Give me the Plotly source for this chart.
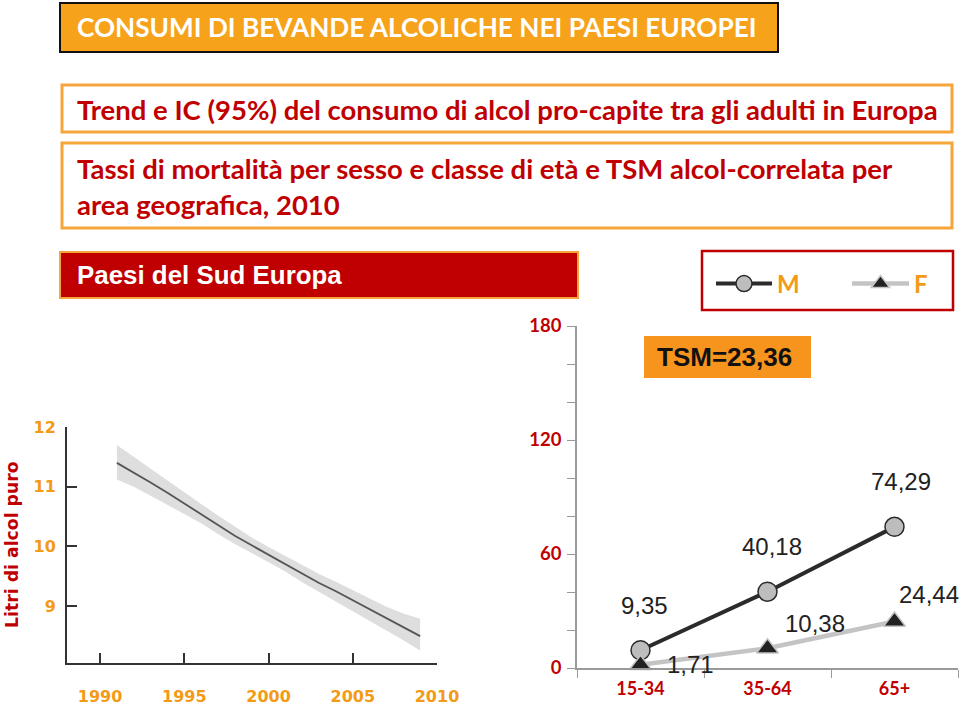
import plotly.graph_objects as go

# ---------------- data ----------------
years = [1991, 1992, 1993, 1994, 1995, 1996, 1997, 1998, 1999, 2000,
         2001, 2002, 2003, 2004, 2005, 2006, 2007, 2008, 2009]
litri = [11.40, 11.24, 11.07, 10.90, 10.72, 10.55, 10.36, 10.18, 10.02, 9.86,
         9.71, 9.54, 9.39, 9.25, 9.10, 8.95, 8.80, 8.65, 8.50]
ci_upper = [11.70, 11.50, 11.30, 11.10, 10.90, 10.71, 10.52, 10.33, 10.15, 9.99,
            9.84, 9.68, 9.54, 9.41, 9.27, 9.13, 8.99, 8.88, 8.79]
ci_lower = [11.12, 11.00, 10.85, 10.70, 10.54, 10.39, 10.21, 10.04, 9.89, 9.73,
            9.58, 9.40, 9.24, 9.08, 8.92, 8.76, 8.60, 8.43, 8.26]
year_ticks = [1990, 1995, 2000, 2005, 2010]
litri_ticks = [9, 10, 11, 12]

age_classes = ["15-34", "35-64", "65+"]
mort_m = [9.35, 40.18, 74.29]
mort_f = [1.71, 10.38, 24.44]
mort_m_labels = ["9,35", "40,18", "74,29"]
mort_f_labels = ["1,71", "10,38", "24,44"]
rate_ticks = [0, 20, 40, 60, 80, 100, 120, 140, 160, 180]
rate_ticktext = ["0", "", "", "60", "", "", "120", "", "", "180"]

# ---------------- helpers ----------------
W, H = 960, 706
def px(x):
    return x / W
def py(y):
    return 1 - y / H

ORANGE = "#F7A21B"
DARKRED = "#C00000"
TICK_ORANGE = "#F39A16"

fig = go.Figure()

# left chart: CI band + trend
fig.add_trace(go.Scatter(x=years, y=ci_lower, mode="lines", line=dict(width=0),
                         showlegend=False, hoverinfo="skip", xaxis="x", yaxis="y"))
fig.add_trace(go.Scatter(x=years, y=ci_upper, mode="lines", line=dict(width=0),
                         fill="tonexty", fillcolor="#DEDEDE",
                         showlegend=False, hoverinfo="skip", xaxis="x", yaxis="y"))
fig.add_trace(go.Scatter(x=years, y=litri, mode="lines", line=dict(color="#555555", width=1.8),
                         showlegend=False, xaxis="x", yaxis="y"))

# right chart: M and F
fig.add_trace(go.Scatter(x=age_classes, y=mort_m, mode="lines+markers", name="M",
                         line=dict(color="#2B2B2B", width=4),
                         marker=dict(symbol="circle", size=19, color="#BDBDBD",
                                     line=dict(color="#2B2B2B", width=1.5)),
                         cliponaxis=False, xaxis="x2", yaxis="y2", legend="legend"))
fig.add_trace(go.Scatter(x=age_classes, y=mort_f, mode="lines+markers", name="F",
                         line=dict(color="#C4C4C4", width=4.5),
                         marker=dict(symbol="triangle-up", size=19, color="#222222",
                                     line=dict(color="#C4C4C4", width=1.5)),
                         cliponaxis=False, xaxis="x2", yaxis="y2", legend="legend2"))

# data labels
lab_font = dict(family="Liberation Sans, Arial", size=24, color="#222222")
m_shifts = [(4, 45), (4, 45), (6, 45)]
f_shifts = [(50, 0), (47, 25), (34, 27)]
annotations = []
for c, v, t, (dx, dy) in zip(age_classes, mort_m, mort_m_labels, m_shifts):
    annotations.append(dict(x=c, y=v, xref="x2", yref="y2", text=t, showarrow=False,
                            xshift=dx, yshift=dy, font=lab_font))
for c, v, t, (dx, dy) in zip(age_classes, mort_f, mort_f_labels, f_shifts):
    annotations.append(dict(x=c, y=v, xref="x2", yref="y2", text=t, showarrow=False,
                            xshift=dx, yshift=dy, font=lab_font))

# text blocks
annotations += [
    dict(x=px(75), y=py(27), xref="paper", yref="paper", xanchor="left", yanchor="middle",
         text="CONSUMI DI BEVANDE ALCOLICHE NEI PAESI EUROPEI", showarrow=False,
         font=dict(family="Lato", size=26.2, color="white", weight="bold")),
    dict(x=px(75), y=py(110), xref="paper", yref="paper", xanchor="left", yanchor="middle",
         text="Trend e IC (95%) del consumo di alcol pro-capite tra gli adulti in Europa",
         showarrow=False, font=dict(family="Lato", size=27.5, color=DARKRED, weight="bold")),
    dict(x=px(75), y=py(168), xref="paper", yref="paper", xanchor="left", yanchor="middle",
         text="Tassi di mortalità per sesso e classe di età e TSM alcol-correlata per",
         showarrow=False, font=dict(family="Lato", size=27.5, color=DARKRED, weight="bold")),
    dict(x=px(75), y=py(204), xref="paper", yref="paper", xanchor="left", yanchor="middle",
         text="area geografica, 2010",
         showarrow=False, font=dict(family="Lato", size=27.5, color=DARKRED, weight="bold")),
    dict(x=px(75), y=py(275), xref="paper", yref="paper", xanchor="left", yanchor="middle",
         text="Paesi del Sud Europa", showarrow=False,
         font=dict(family="Liberation Sans, Arial", size=25.9, color="white", weight="bold")),
    dict(x=px(724), y=py(357), xref="paper", yref="paper", xanchor="center", yanchor="middle",
         text="TSM=23,36", showarrow=False,
         font=dict(family="Liberation Sans, Arial", size=26, color="#111111", weight="bold")),
    dict(x=px(12), y=py(545), xref="paper", yref="paper", xanchor="center", yanchor="middle",
         text="Litri di alcol puro", textangle=-90, showarrow=False,
         font=dict(family="DejaVu Sans", size=17.3, color=DARKRED, weight="bold")),
]

shapes = [
    dict(type="rect", xref="paper", yref="paper", x0=px(60), x1=px(778), y0=py(52), y1=py(3),
         fillcolor=ORANGE, line=dict(color="#111111", width=2), layer="below"),
    dict(type="rect", xref="paper", yref="paper", x0=px(62), x1=px(952), y0=py(132), y1=py(85),
         fillcolor="white", line=dict(color="#F5A53A", width=3), layer="below"),
    dict(type="rect", xref="paper", yref="paper", x0=px(62), x1=px(952), y0=py(228), y1=py(143),
         fillcolor="white", line=dict(color="#F5A53A", width=3), layer="below"),
    dict(type="rect", xref="paper", yref="paper", x0=px(60), x1=px(578), y0=py(298), y1=py(252),
         fillcolor=DARKRED, line=dict(color="#F5A53A", width=2), layer="below"),
    dict(type="rect", xref="paper", yref="paper", x0=px(702), x1=px(953), y0=py(310), y1=py(251),
         fillcolor="rgba(0,0,0,0)", line=dict(color=DARKRED, width=2.5), layer="below"),
    dict(type="rect", xref="paper", yref="paper", x0=px(644), x1=px(811), y0=py(378), y1=py(336),
         fillcolor="#F7941D", line=dict(width=0), layer="below"),
]

left_tick_font = dict(family="DejaVu Sans", size=16, color=TICK_ORANGE, weight="bold")
right_ytick_font = dict(family="Lato", size=18.5, color=DARKRED, weight="bold")
right_xtick_font = dict(family="Lato", size=18, color=DARKRED, weight="bold")
legend_font = dict(family="Lato", size=24, color=TICK_ORANGE, weight="bold")

fig.update_layout(
    width=W, height=H, margin=dict(l=0, r=0, t=0, b=0, autoexpand=False),
    paper_bgcolor="white", plot_bgcolor="rgba(0,0,0,0)",
    annotations=annotations, shapes=shapes,
    showlegend=True,
    legend=dict(orientation="h", xref="container", yref="container",
                x=px(711), y=py(284), xanchor="left", yanchor="middle",
                bgcolor="rgba(0,0,0,0)", borderwidth=0, itemwidth=56, font=legend_font),
    legend2=dict(orientation="h", xref="container", yref="container",
                 x=px(847), y=py(284), xanchor="left", yanchor="middle",
                 bgcolor="rgba(0,0,0,0)", borderwidth=0, itemwidth=57, font=legend_font),
    xaxis=dict(domain=[px(67), px(437)], range=[1988.04, 2010], tickvals=year_ticks,
               ticks="inside", ticklen=10, tickwidth=2, tickcolor="#333333",
               showline=True, linecolor="#333333", linewidth=2, showgrid=False, zeroline=False,
               tickfont=left_tick_font, ticklabelstandoff=18, anchor="y"),
    yaxis=dict(domain=[py(663), py(427)], range=[8.05, 12], tickvals=litri_ticks,
               ticks="inside", ticklen=10, tickwidth=2, tickcolor="#333333",
               showline=True, linecolor="#333333", linewidth=2, showgrid=False, zeroline=False,
               tickfont=left_tick_font, ticklabelstandoff=6, anchor="x"),
    xaxis2=dict(domain=[px(577), px(958)], type="category", categoryarray=age_classes,
                range=[-0.5, 2.5], tickson="boundaries", ticks="outside", ticklen=8,
                tickcolor="#9A9A9A", showline=True, linecolor="#9A9A9A", linewidth=1.5,
                showgrid=False, zeroline=False, tickfont=right_xtick_font,
                ticklabelstandoff=4, anchor="y2"),
    yaxis2=dict(domain=[py(668), py(326)], range=[0, 180], tickvals=rate_ticks,
                ticktext=rate_ticktext, ticks="outside", ticklen=8, tickcolor="#9A9A9A",
                showline=True, linecolor="#9A9A9A", linewidth=1.5, showgrid=False,
                zeroline=False, tickfont=right_ytick_font, ticklabelstandoff=2, anchor="x2"),
)

fig.write_html("out.html")
